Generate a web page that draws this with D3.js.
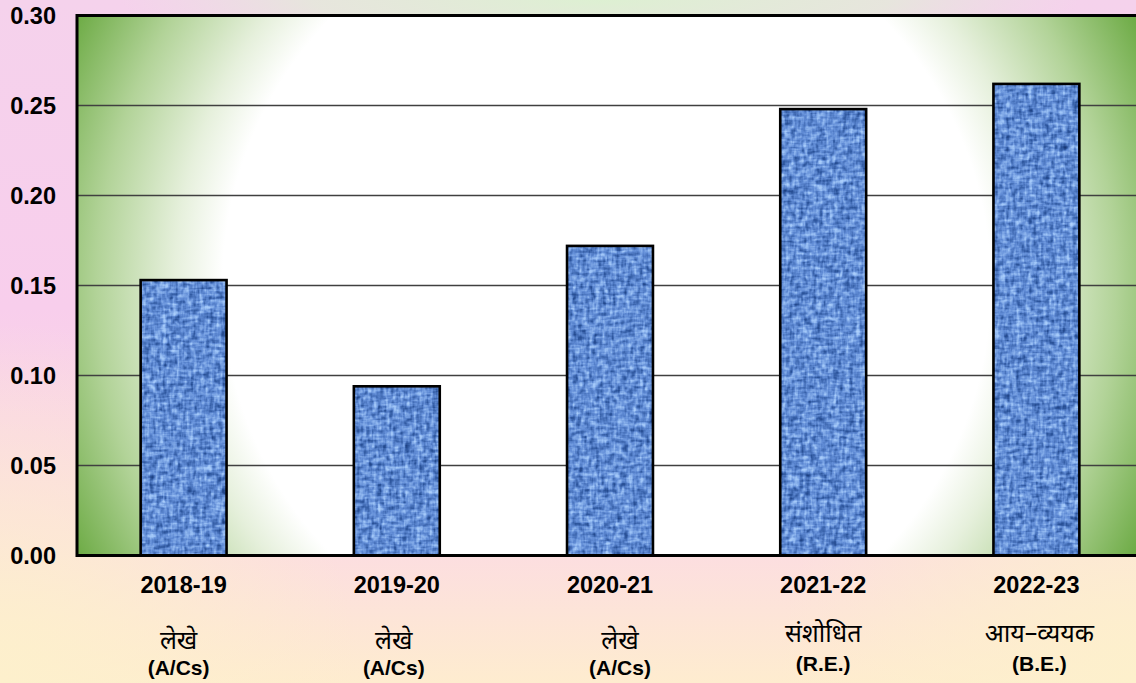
<!DOCTYPE html>
<html>
<head>
<meta charset="utf-8">
<script src="https://cdn.jsdelivr.net/npm/d3@7"></script>
<style>
  html, body { margin: 0; padding: 0; background: #fff; }
  svg { display: block; }
  .num { font-family: "Liberation Sans", Arial, sans-serif; font-weight: bold; fill: #000; }
  .hin { font-family: "Noto Sans Devanagari", "Lohit Devanagari", Mangal, "Noto Sans", sans-serif; fill: #000; }
</style>
</head>
<body>
<svg id="chart" width="1136" height="683"></svg>
<script>
// Fiscal years shown on the x axis
const years = ["2018-19", "2019-20", "2020-21", "2021-22", "2022-23"];
// Hindi stage label under each year
const stageHindi = ["लेखे", "लेखे", "लेखे", "संशोधित", "आय–व्ययक"];
// English abbreviation of each stage
const stageAbbr = ["(A/Cs)", "(A/Cs)", "(A/Cs)", "(R.E.)", "(B.E.)"];
// Bar values
const values = [0.153, 0.094, 0.172, 0.248, 0.262];
// Y axis ticks
const yTicks = [0, 0.05, 0.10, 0.15, 0.20, 0.25, 0.30];

const W = 1136, H = 683;
const plot = { left: 77, right: 1143, top: 15.5, bottom: 555.5 };

const svg = d3.select("#chart");
const defs = svg.append("defs");

// ---- page background: pink at the top, peach at the bottom ----
const bg = defs.append("linearGradient").attr("id", "bgV")
  .attr("x1", 0).attr("y1", 0).attr("x2", 0).attr("y2", 1);
[[0, "#f5d2ec"], [0.45, "#f8ceec"], [0.8, "#fcdde1"], [1, "#feeccf"]]
  .forEach(([o, c]) => bg.append("stop").attr("offset", o).attr("stop-color", c));

const topGlow = defs.append("radialGradient").attr("id", "topGlow")
  .attr("gradientUnits", "userSpaceOnUse")
  .attr("cx", 600).attr("cy", 0).attr("r", 480)
  .attr("gradientTransform", "translate(600,0) scale(1,0.12) translate(-600,0)");
topGlow.append("stop").attr("offset", 0).attr("stop-color", "#ddf0d2").attr("stop-opacity", 1);
topGlow.append("stop").attr("offset", 0.6).attr("stop-color", "#e2ecd8").attr("stop-opacity", 0.75);
topGlow.append("stop").attr("offset", 1).attr("stop-color", "#e8e4e0").attr("stop-opacity", 0);

function cornerGlow(id, cx, cy) {
  const g = defs.append("radialGradient").attr("id", id)
    .attr("gradientUnits", "userSpaceOnUse")
    .attr("cx", cx).attr("cy", cy).attr("r", 360);
  g.append("stop").attr("offset", 0).attr("stop-color", "#fdf0cc").attr("stop-opacity", 1);
  g.append("stop").attr("offset", 1).attr("stop-color", "#fdf0cc").attr("stop-opacity", 0);
}
cornerGlow("glowBL", 0, H);
cornerGlow("glowBR", W, H);

svg.append("rect").attr("width", W).attr("height", H).attr("fill", "url(#bgV)");
svg.append("rect").attr("width", W).attr("height", H).attr("fill", "url(#glowBL)");
svg.append("rect").attr("width", W).attr("height", H).attr("fill", "url(#glowBR)");
svg.append("rect").attr("width", W).attr("height", 90).attr("fill", "url(#topGlow)");

// ---- plot area: white centre, green toward the corners ----
const pcx = (plot.left + 1136) / 2, pcy = (plot.top + plot.bottom) / 2;
const plotGrad = defs.append("radialGradient").attr("id", "plotGrad")
  .attr("gradientUnits", "userSpaceOnUse")
  .attr("cx", pcx).attr("cy", pcy).attr("r", 600);
[[0, "#ffffff"], [0.64, "#ffffff"], [0.72, "#e6f0dc"], [0.85, "#b2d398"], [1, "#68a83f"]]
  .forEach(([o, c]) => plotGrad.append("stop").attr("offset", o).attr("stop-color", c));

svg.append("rect")
  .attr("x", plot.left).attr("y", plot.top)
  .attr("width", plot.right - plot.left).attr("height", plot.bottom - plot.top)
  .attr("fill", "url(#plotGrad)");

// ---- woven blue texture for the bars ----
const tex = defs.append("filter").attr("id", "denim")
  .attr("filterUnits", "objectBoundingBox")
  .attr("x", 0).attr("y", 0).attr("width", 1).attr("height", 1)
  .attr("color-interpolation-filters", "sRGB");
tex.append("feTurbulence").attr("type", "fractalNoise")
  .attr("baseFrequency", "0.30 0.07").attr("numOctaves", 2).attr("seed", 4).attr("result", "h");
tex.append("feTurbulence").attr("type", "fractalNoise")
  .attr("baseFrequency", "0.07 0.30").attr("numOctaves", 2).attr("seed", 9).attr("result", "v");
tex.append("feTurbulence").attr("type", "fractalNoise")
  .attr("baseFrequency", "0.18").attr("numOctaves", 2).attr("seed", 2).attr("result", "m");
tex.append("feComposite").attr("in", "h").attr("in2", "v")
  .attr("operator", "arithmetic").attr("k2", 0.5).attr("k3", 0.5).attr("result", "hv");
tex.append("feComposite").attr("in", "hv").attr("in2", "m")
  .attr("operator", "arithmetic").attr("k2", 0.65).attr("k3", 0.35).attr("result", "mix");
tex.append("feColorMatrix").attr("in", "mix").attr("type", "matrix")
  .attr("values", "1 0 0 0 0  1 0 0 0 0  1 0 0 0 0  0 0 0 0 1").attr("result", "gray");
const ct = tex.append("feComponentTransfer").attr("in", "gray").attr("result", "col");
ct.append("feFuncR").attr("type", "table").attr("tableValues", "0.06 0.08 0.18 0.38 0.62 0.74 0.80");
ct.append("feFuncG").attr("type", "table").attr("tableValues", "0.16 0.20 0.34 0.55 0.77 0.86 0.90");
ct.append("feFuncB").attr("type", "table").attr("tableValues", "0.38 0.44 0.62 0.84 0.97 1.00 1.00");
tex.append("feComposite").attr("in", "col").attr("in2", "SourceGraphic").attr("operator", "in");

// ---- scales ----
const x = d3.scaleBand().domain(years)
  .range([plot.left, plot.right]).paddingInner(0.597).paddingOuter(0.2985);
const y = d3.scaleLinear().domain([0, 0.30]).range([plot.bottom, plot.top]);

// ---- gridlines ----
svg.append("g")
  .selectAll("line").data(yTicks.filter(t => t > 0 && t < 0.30)).join("line")
  .attr("x1", plot.left).attr("x2", W)
  .attr("y1", d => y(d)).attr("y2", d => y(d))
  .attr("stroke", "#404040").attr("stroke-width", 1.6);

// ---- bars ----
const bars = svg.append("g");
bars.selectAll("rect.fill").data(values).join("rect").attr("class", "fill")
  .attr("x", (d, i) => x(years[i])).attr("width", x.bandwidth())
  .attr("y", d => y(d)).attr("height", d => y(0) - y(d))
  .attr("fill", "#6b8dd0").attr("filter", "url(#denim)");
bars.selectAll("rect.edge").data(values).join("rect").attr("class", "edge")
  .attr("x", (d, i) => x(years[i])).attr("width", x.bandwidth())
  .attr("y", d => y(d)).attr("height", d => y(0) - y(d))
  .attr("fill", "none").attr("stroke", "#000").attr("stroke-width", 2.6);

// ---- plot frame (top, left, bottom) ----
svg.append("path")
  .attr("d", `M${W},${plot.top}H${plot.left}V${plot.bottom}H${W}`)
  .attr("fill", "none").attr("stroke", "#000").attr("stroke-width", 3);

// ---- y axis labels ----
svg.append("g").selectAll("text").data(yTicks).join("text")
  .attr("class", "num")
  .attr("x", 56).attr("y", d => y(d)).attr("dy", "0.36em")
  .attr("text-anchor", "end").attr("font-size", 23.5)
  .text(d => d.toFixed(2));

// ---- x axis labels ----
const cx = d => x(d) + x.bandwidth() / 2;
const stageShift = [-5, -3, 10, 0, 3];
const hindiRaise = [0, 0, 0, 7, 7];
const abbrRaise = [0, 0, 0, 4, 4];
const xl = svg.append("g");
xl.selectAll("text.yr").data(years).join("text").attr("class", "num yr")
  .attr("x", d => cx(d)).attr("y", 593).attr("text-anchor", "middle")
  .attr("font-size", 23.5).text(d => d);
xl.selectAll("text.hi").data(stageHindi).join("text").attr("class", "hin hi")
  .attr("x", (d, i) => cx(years[i]) + stageShift[i]).attr("y", (d, i) => 649 - hindiRaise[i])
  .attr("text-anchor", "middle").attr("font-size", 25).text(d => d);
xl.selectAll("text.ab").data(stageAbbr).join("text").attr("class", "num ab")
  .attr("x", (d, i) => cx(years[i]) + stageShift[i]).attr("y", (d, i) => 675 - abbrRaise[i])
  .attr("text-anchor", "middle").attr("font-size", 21).text(d => d);
</script>
</body>
</html>
